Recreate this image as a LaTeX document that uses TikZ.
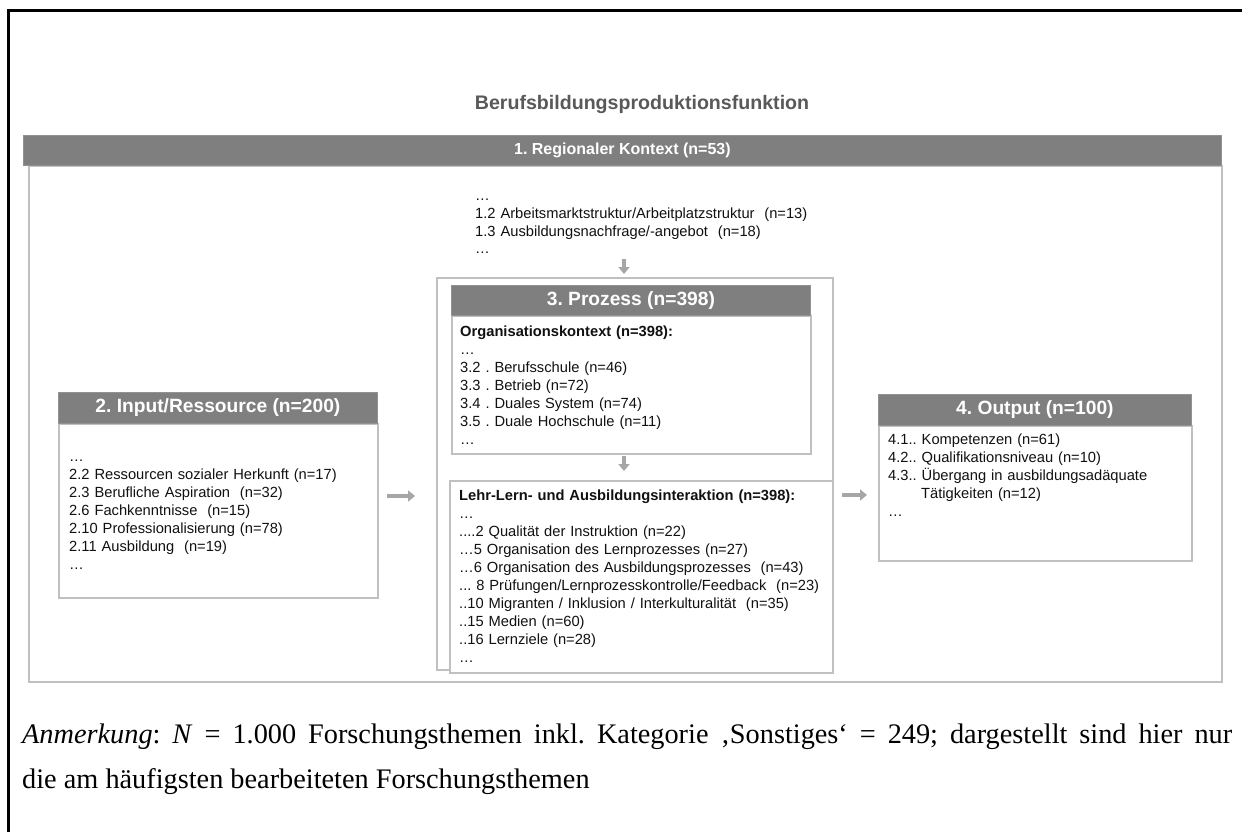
\documentclass[tikz,border=0pt]{standalone}
\usepackage{fontspec}
\setmainfont{Liberation Serif}
\newfontfamily\arial{Liberation Sans}
\usetikzlibrary{arrows.meta,shadows}
\definecolor{hdr}{HTML}{7F7F7F}
\definecolor{brd}{HTML}{C0C0C0}
\definecolor{ttl}{HTML}{595959}
\definecolor{arrc}{HTML}{A6A6A6}
\definecolor{txt}{HTML}{111111}
\frenchspacing
\begin{document}
\begin{tikzpicture}[x=1pt,y=-1pt,
  box/.style={draw=brd, line width=1.5pt, fill=white, anchor=north west, inner sep=0pt,
    drop shadow={shadow xshift=1.5pt,shadow yshift=-1.5pt,opacity=0.25}},
  hdrbar/.style={fill=hdr, draw=hdr!85!white, line width=0.8pt, anchor=north west, inner sep=0pt},
  hdrtext/.style={text=white, inner sep=0pt, font=\arial\bfseries\fontsize{19.2}{22}\selectfont},
  list/.style={anchor=base west, inner sep=0pt, align=left, text width=#1, text=txt,
    font=\arial\fontsize{14.7}{18}\selectfont},
  arr/.style={draw=arrc, line width=3.5pt, -{Triangle[length=7pt,width=11pt]}},
]
\useasboundingbox (0,0) rectangle (1242,832);
\fill[white] (0,0) rectangle (1242,832);
% outer frame
\draw[line width=3pt] (8.5,832) -- (8.5,10.5) -- (1242,10.5);

% title
\node[text=ttl, inner sep=0pt, font=\arial\bfseries\fontsize{19.6}{23}\selectfont] (title) at (642,104) {Berufsbildungsproduktionsfunktion};

% regional context
\node[box, minimum width=1193pt, minimum height=516pt] (regbody) at (28,165) {};
\node[hdrbar, minimum width=1198pt, minimum height=30pt] (regbar) at (23,135) {};
\node[text=white, inner sep=0pt, font=\arial\bfseries\fontsize{16}{19}\selectfont] (regtitle) at (regbar.center) {1. Regionaler Kontext (n=53)};
\node[list=360pt] (reglist) at (475,200) {…\\1.2 Arbeitsmarktstruktur/Arbeitplatzstruktur\ \ (n=13)\\1.3 Ausbildungsnachfrage/-angebot\ \ (n=18)\\…};

% process
\node[box, minimum width=396pt, minimum height=392pt] (procbox) at (436,277) {};
\node[box, minimum width=359pt, minimum height=138pt] (orgbox) at (451,315) {};
\node[hdrbar, minimum width=359pt, minimum height=30pt] (prochdr) at (451,285) {};
\node[hdrtext] (proctitle) at (prochdr.center) {3. Prozess (n=398)};
\node[list=345pt] (orglist) at (460,336) {\textbf{Organisationskontext (n=398):}\\…\\3.2 . Berufsschule (n=46)\\3.3 . Betrieb (n=72)\\3.4 . Duales System (n=74)\\3.5 . Duale Hochschule (n=11)\\…};
\node[box, minimum width=383pt, minimum height=192pt] (lehrbox) at (449,480) {};
\node[list=372pt] (lehrlist) at (459,500) {\textbf{Lehr-Lern- und Ausbildungsinteraktion (n=398):}\\…\\....2 Qualität der Instruktion (n=22)\\…5 Organisation des Lernprozesses (n=27)\\…6 Organisation des Ausbildungsprozesses\ \ (n=43)\\... 8 Prüfungen/Lernprozesskontrolle/Feedback\ \ (n=23)\\..10 Migranten / Inklusion / Interkulturalität\ \ (n=35)\\..15 Medien (n=60)\\..16 Lernziele (n=28)\\…};

% input
\node[box, minimum width=319pt, minimum height=174pt] (inbody) at (58,423) {};
\node[hdrbar, minimum width=319pt, minimum height=31pt] (inhdr) at (58,392) {};
\node[hdrtext] (intitle) at (inhdr.center) {2. Input/Ressource (n=200)};
\node[list=300pt] (inlist) at (69,461) {…\\2.2 Ressourcen sozialer Herkunft (n=17)\\2.3 Berufliche Aspiration\ \ (n=32)\\2.6 Fachkenntnisse\ \ (n=15)\\2.10 Professionalisierung (n=78)\\2.11 Ausbildung\ \ (n=19)\\…};

% output
\node[box, minimum width=313pt, minimum height=135pt] (outbody) at (878,425) {};
\node[hdrbar, minimum width=313pt, minimum height=31pt] (outhdr) at (878,394) {};
\node[hdrtext] (outtitle) at (outhdr.center) {4. Output (n=100)};
\node[list=295pt] (outlist) at (888,444) {4.1.. Kompetenzen (n=61)\\4.2.. Qualifikationsniveau (n=10)\\4.3.. Übergang in ausbildungsadäquate\\\hspace*{33pt}Tätigkeiten (n=12)\\…};

% arrows
\coordinate (a1s) at (624,259);
\coordinate (a1e) at (624,274);
\draw[arr] (a1s) -- (a1e);
\coordinate (a2s) at (624,456);
\coordinate (a2e) at (624,471);
\draw[arr] (a2s) -- (a2e);
\coordinate (a3s) at (387,496);
\coordinate (a3e) at (415,496);
\draw[arr] (a3s) -- (a3e);
\coordinate (a4s) at (842,495);
\coordinate (a4e) at (867,495);
\draw[arr] (a4s) -- (a4e);

% footnote
\node[anchor=base west, inner sep=0pt, font=\fontsize{28.3}{45}\selectfont] (note1) at (22,743) {\makebox[1210pt][s]{\textit{Anmerkung}: \textit{N} = 1.000 Forschungsthemen inkl. Kategorie ‚Sonstiges‘ = 249; dargestellt sind hier nur}};
\node[anchor=base west, inner sep=0pt, font=\fontsize{28.3}{45}\selectfont] (note2) at (22,788) {die am häufigsten bearbeiteten Forschungsthemen};
\end{tikzpicture}
\end{document}
